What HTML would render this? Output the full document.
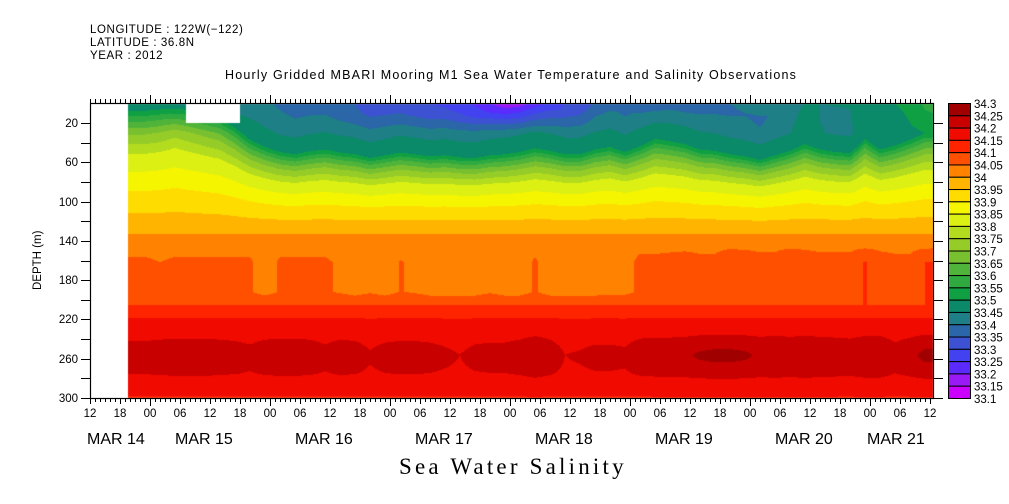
<!DOCTYPE html>
<html><head><meta charset="utf-8">
<style>
html,body{margin:0;padding:0;background:#fff;}
#wrap{position:relative;width:1009px;height:504px;overflow:hidden;font-family:"Liberation Sans",sans-serif;color:#000;}
.t{position:absolute;white-space:nowrap;line-height:1;}
canvas,svg{position:absolute;left:0;top:0;}
</style></head>
<body>
<div id="wrap">
<canvas id="cv" width="1009" height="504"></canvas>
<svg id="ax" width="1009" height="504"></svg>
<div class="t" style="left:90px;top:25px;font-size:11.5px;letter-spacing:0.6px;">LONGITUDE : 122W(−122)</div>
<div class="t" style="left:90px;top:38px;font-size:11.5px;letter-spacing:0.6px;">LATITUDE : 36.8N</div>
<div class="t" style="left:90px;top:51px;font-size:11.5px;letter-spacing:0.6px;">YEAR : 2012</div>
<div class="t" style="left:225px;top:69px;font-size:12.5px;letter-spacing:1.2px;">Hourly Gridded MBARI Mooring M1 Sea Water Temperature and Salinity Observations</div>
<div class="t" style="left:33px;top:290px;font-size:11.5px;transform:rotate(-90deg);transform-origin:left top;">DEPTH (m)</div>
<div class="t" style="left:399px;top:455px;font-family:'Liberation Serif',serif;font-size:23px;letter-spacing:3.2px;">Sea Water Salinity</div>
</div>
<script>
// time nodes (hours since MAR 14 00:00), every 3 h
const hours = [];
for (let h = 20; h <= 182; h += 3) hours.push(h);
const thermoShift = [-44,-44,-46,-50,-46,-42,-38,-28,-14,-4,4,8,3,0,5,8,15,10,5,8,12,10,14,15,10,8,4,-2,2,8,8,0,-4,4,-5,-15,-12,-8,0,2,8,12,19,10,2,-8,0,4,6,-15,0,-6,-14,-22,-22];
const surfaceSal = [33.46,33.46,33.45,33.44,33.43,33.42,33.42,33.41,33.41,33.40,33.40,33.39,33.38,33.37,33.36,33.35,33.34,33.33,33.32,33.31,33.30,33.29,33.27,33.24,33.20,33.17,33.18,33.22,33.26,33.30,33.32,33.36,33.38,33.38,33.37,33.37,33.38,33.37,33.37,33.38,33.40,33.42,33.43,33.43,33.44,33.45,33.45,33.46,33.47,33.47,33.48,33.50,33.52,33.56,33.58];
const midSal = [34.055,34.055,34.05,34.055,34.055,34.055,34.055,34.055,34.055,34.03,34.055,34.055,34.055,34.055,34.045,34.03,34.045,34.03,34.052,34.045,34.03,34.03,34.03,34.03,34.045,34.03,34.03,34.055,34.03,34.03,34.03,34.03,34.035,34.035,34.06,34.06,34.065,34.07,34.06,34.06,34.09,34.08,34.065,34.065,34.1,34.08,34.065,34.065,34.065,34.105,34.07,34.06,34.06,34.1,34.105];
const coreSal = [34.225,34.225,34.23,34.235,34.235,34.235,34.23,34.225,34.215,34.23,34.235,34.235,34.23,34.215,34.23,34.225,34.205,34.22,34.225,34.225,34.22,34.21,34.2,34.215,34.22,34.22,34.23,34.25,34.23,34.2,34.205,34.215,34.215,34.21,34.235,34.24,34.24,34.245,34.255,34.26,34.26,34.255,34.245,34.25,34.245,34.25,34.245,34.24,34.235,34.25,34.25,34.22,34.24,34.26,34.26];
// base profiles
const upDepth = [0,20,35,47,55,65,78,90,103,118,133,145,160];
const upSal = [33.36,33.42,33.47,33.5,33.6,33.7,33.8,33.85,33.9,33.95,34.0,34.04,34.06];
const deepDepth = [205,220,235,256,275,290,300];
const deepSal = [34.1,34.152,34.17,34.19,34.185,34.17,34.145];
const levels = [];
for (let i = 0; i <= 24; i++) levels.push(+(33.1 + i*0.05).toFixed(2));
const colors = ["#cc00ff","#9a1af5","#5a2aff","#4242f0","#3c52d2","#2a66a8","#1e7f86","#0a8a68","#10a044","#30aa40","#50b43a","#78c030","#96cc28","#b4dc1e","#dcf014","#f5f500","#ffdc00","#ffb400","#ff8200","#ff5000","#ff2400","#f00a00","#c80000","#a00000"];
const hourTicks = ["12","18","00","06","12","18","00","06","12","18","00","06","12","18","00","06","12","18","00","06","12","18","00","06","12","18","00","06","12"];
const dayLabels = ["MAR 14","MAR 15","MAR 16","MAR 17","MAR 18","MAR 19","MAR 20","MAR 21"];
const depthTicks = [20,40,60,80,100,120,140,160,180,200,220,240,260,280,300];

const X0=90, X1=933, Y0=103, Y1=398;
const DATA_START_H = 19.6;
const xOf = h => X0 + (h-12)*5;
const yOf = d => 103.4 + d*0.982;
const dOf = y => (y-103.4)/0.982;
const hOf = x => (x-X0)/5 + 12;

function interp(xs, ys, x){
  if (x<=xs[0]) return ys[0];
  if (x>=xs[xs.length-1]) return ys[ys.length-1];
  for (let i=1;i<xs.length;i++) if (x<=xs[i]) { const f=(x-xs[i-1])/(xs[i]-xs[i-1]); return ys[i-1]+f*(ys[i]-ys[i-1]); }
}
function salinity(h, d){
  const sh = interp(hours, thermoShift, h), su = interp(hours, surfaceSal, h);
  const mid = interp(hours, midSal, h), core = interp(hours, coreSal, h);
  const up = dd => interp(upDepth, upSal, Math.max(0, dd - sh*Math.max(0,1-dd/130)));
  let s;
  if (d <= 145) {
    s = up(d) + (su - up(0))*Math.max(0, 1-d/30);
  } else if (d <= 162) {
    const f=(d-145)/17; s = up(145)*(1-f) + mid*f;
  } else if (d <= 192) {
    s = mid;
  } else if (d <= 205) {
    const f=(d-192)/13; s = mid*(1-f) + 34.1*f;
  } else {
    s = interp(deepDepth, deepSal, d) + Math.max(0, core-34.19)*Math.exp(-Math.pow((d-256)/22,2));
  }
  return s;
}
function hex(c){return [parseInt(c.slice(1,3),16),parseInt(c.slice(3,5),16),parseInt(c.slice(5,7),16)];}
const rgb = colors.map(hex);
(function draw(){
  const cv=document.getElementById('cv'), ctx=cv.getContext('2d');
  const xs = Math.round(xOf(DATA_START_H)), W = X1-xs, H = Y1-Y0-1;
  const img = ctx.createImageData(W, H);
  for (let py=0; py<H; py++){
    const y = Y0+1+py, d = dOf(y+0.5);
    for (let px=0; px<W; px++){
      const x = xs+px, h = hOf(x+0.5);
      const s = salinity(h, d);
      let k = Math.floor((s-33.1)/0.05 + 1e-9); if (k<0) k=0; if (k>23) k=23;
      let c = rgb[k];
      if (h>=31.2 && h<42 && d<20) c=[255,255,255];
      const o=(py*W+px)*4; img.data[o]=c[0]; img.data[o+1]=c[1]; img.data[o+2]=c[2]; img.data[o+3]=255;
    }
  }
  ctx.putImageData(img, xs, Y0+1);
})();
(function axes(){
  const svg=document.getElementById('ax'), NS='http://www.w3.org/2000/svg';
  function el(tag, attrs, parent){ const e=document.createElementNS(NS,tag); for(const k in attrs) e.setAttribute(k,attrs[k]); (parent||svg).appendChild(e); return e; }
  const frame = el('rect',{x:X0+0.5,y:Y0+0.5,width:X1-X0,height:Y1-Y0,fill:'none',stroke:'#000','stroke-width':1.2});
  
  
  let p='';
  for (let h=12; h<=180 && xOf(h)<=X1; h++){
    const x=xOf(h)+0.5, major=(h%24===0), six=(h%6===0);
    const lb = major?8:(six?6:4);
    p+=`M${x} ${Y1}v${lb}M${x} ${Y0}v${-(major?8:4)}`;
  }
  for (const d of depthTicks){ const y=Math.round(yOf(d))+0.5; p+=`M${X0} ${y}h-9M${X1+1} ${y}h9`; }
  const tk = el('path',{d:p,stroke:'#000','stroke-width':1,fill:'none'});
  
  
  hourTicks.forEach((lab,i)=>{
    const t=el('text',{x:xOf(12+6*i),y:417,'text-anchor':'middle','font-size':11.5,'font-family':'Liberation Sans, sans-serif'});
    t.textContent=lab;
    
    
  });
  dayLabels.forEach((lab,i)=>{
    const x = i===0 ? 87 : (i===7 ? xOf(24*i)-3 : xOf(24*i)+25);
    const t=el('text',{x:x,y:444,'font-size':16,'font-family':'Liberation Sans, sans-serif'});
    t.textContent=lab;
    
    
  });
  depthTicks.forEach(d=>{
    if (d%40!==20) return;
    const t=el('text',{x:78,y:Math.round(yOf(d))+4,'text-anchor':'end','font-size':11.5,'font-family':'Liberation Sans, sans-serif'});
    t.textContent=String(d);
    
    
  });
  // colorbar
  const cb = el('g',{});
  
  
  const bx=948, bw=22, top=103, bh=(398-103)/24;
  for (let i=0;i<24;i++){
    const k=23-i;
    const r=el('rect',{x:bx+0.5,y:top+i*bh+0.5,width:bw,height:bh,fill:colors[k],stroke:'#000','stroke-width':1},cb);
    
    
  }
  for (let i=0;i<=24;i++){
    const t=el('text',{x:974,y:top+i*bh+5,'font-size':11.5,'font-family':'Liberation Sans, sans-serif'},cb);
    t.textContent=String(levels[24-i]);
    
    
  }
})();
</script>
</body></html>
